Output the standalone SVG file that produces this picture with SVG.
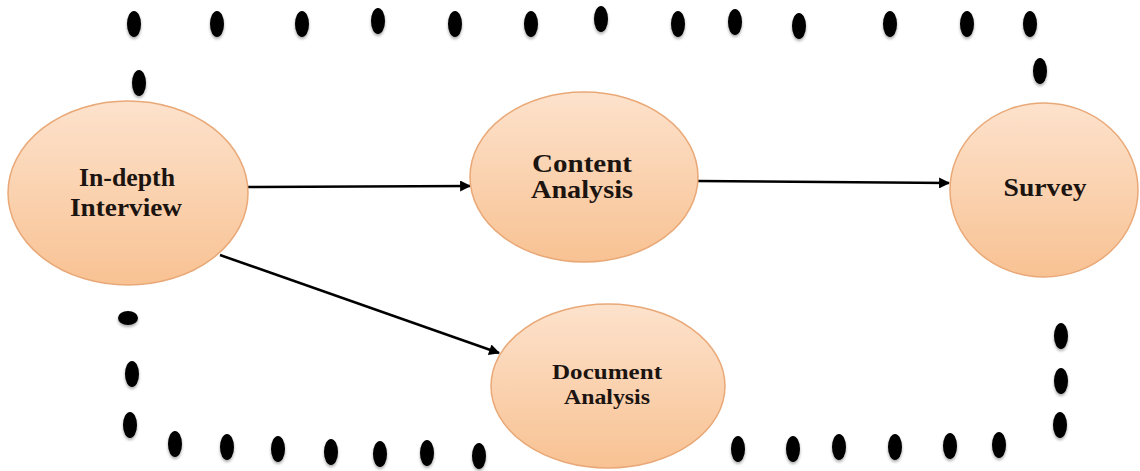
<svg xmlns="http://www.w3.org/2000/svg" width="1140" height="471" viewBox="0 0 1140 471">
<style>
.node-shape{fill:url(#peach);stroke:#e9a877;stroke-width:1.5}
.lbl{font-family:"Liberation Serif","Times New Roman",serif;font-weight:bold;fill:#1c1410;text-anchor:middle}
.big{font-size:25px}
.small{font-size:21px}
.dot{fill:#000;filter:url(#soft)}
.conn{stroke:#000;stroke-width:2.5;fill:none;marker-end:url(#arrow)}
</style>
<defs>
<linearGradient id="peach" x1="0" y1="0" x2="0" y2="1">
<stop offset="0" stop-color="#fde2cc"/>
<stop offset="1" stop-color="#f8c293"/>
</linearGradient>
<filter id="soft" x="-50%" y="-50%" width="200%" height="200%">
<feGaussianBlur in="SourceAlpha" stdDeviation="1.5"/>
<feOffset dx="0" dy="2" result="b"/>
<feComponentTransfer><feFuncA type="linear" slope="0.35"/></feComponentTransfer>
<feMerge><feMergeNode/><feMergeNode in="SourceGraphic"/></feMerge>
</filter>
<marker id="arrow" viewBox="0 0 10 10" refX="9" refY="5" markerWidth="5" markerHeight="4.4" orient="auto" markerUnits="strokeWidth">
<path d="M0,0 L10,5 L0,10 z" fill="#000"/>
</marker>
</defs>
<rect width="1140" height="471" fill="#fff"/>
<g id="dots">
<ellipse class="dot" cx="134" cy="24" rx="7" ry="13"/>
<ellipse class="dot" cx="217" cy="24" rx="7" ry="13"/>
<ellipse class="dot" cx="302" cy="24" rx="7" ry="13"/>
<ellipse class="dot" cx="378" cy="21" rx="7" ry="13"/>
<ellipse class="dot" cx="455" cy="24" rx="7" ry="13"/>
<ellipse class="dot" cx="531" cy="24" rx="7" ry="13"/>
<ellipse class="dot" cx="601" cy="19" rx="7" ry="13"/>
<ellipse class="dot" cx="678" cy="24" rx="7" ry="13"/>
<ellipse class="dot" cx="735" cy="22" rx="7" ry="13"/>
<ellipse class="dot" cx="799" cy="26" rx="7" ry="13"/>
<ellipse class="dot" cx="890" cy="24" rx="7" ry="13"/>
<ellipse class="dot" cx="967" cy="24" rx="7" ry="13"/>
<ellipse class="dot" cx="1030" cy="24" rx="7" ry="13"/>
<ellipse class="dot" cx="1040" cy="71" rx="7" ry="13"/>
<ellipse class="dot" cx="139" cy="83" rx="7" ry="13"/>
<ellipse class="dot" cx="128" cy="318" rx="10" ry="7"/>
<ellipse class="dot" cx="132" cy="374" rx="7" ry="13"/>
<ellipse class="dot" cx="130" cy="425" rx="7" ry="13"/>
<ellipse class="dot" cx="175" cy="444" rx="7" ry="13"/>
<ellipse class="dot" cx="227" cy="447" rx="7" ry="13"/>
<ellipse class="dot" cx="278" cy="449" rx="7" ry="13"/>
<ellipse class="dot" cx="331" cy="452" rx="7" ry="13"/>
<ellipse class="dot" cx="380" cy="454" rx="7" ry="13"/>
<ellipse class="dot" cx="427" cy="453" rx="7" ry="13"/>
<ellipse class="dot" cx="479" cy="456" rx="7" ry="13"/>
<ellipse class="dot" cx="738" cy="449" rx="7" ry="13"/>
<ellipse class="dot" cx="793" cy="449" rx="7" ry="13"/>
<ellipse class="dot" cx="839" cy="447" rx="7" ry="13"/>
<ellipse class="dot" cx="895" cy="447" rx="7" ry="13"/>
<ellipse class="dot" cx="950" cy="446" rx="7" ry="13"/>
<ellipse class="dot" cx="999" cy="445" rx="7" ry="13"/>
<ellipse class="dot" cx="1061" cy="336" rx="7" ry="13"/>
<ellipse class="dot" cx="1061" cy="381" rx="7" ry="13"/>
<ellipse class="dot" cx="1060" cy="425" rx="7" ry="13"/>
</g>
<g id="connectors">
<line class="conn" x1="248" y1="187" x2="470" y2="186"/>
<line class="conn" x1="698" y1="181" x2="949" y2="183"/>
<line class="conn" x1="220" y1="255" x2="499" y2="353"/>
</g>
<g id="node-indepth">
<ellipse class="node-shape" cx="128" cy="193" rx="120" ry="92"/>
<text class="lbl big" x="127" y="186" textLength="96" lengthAdjust="spacingAndGlyphs">In-depth</text>
<text class="lbl big" x="126" y="216" textLength="112" lengthAdjust="spacingAndGlyphs">Interview</text>
</g>
<g id="node-content">
<ellipse class="node-shape" cx="584" cy="177" rx="114" ry="85"/>
<text class="lbl big" x="582" y="172" textLength="100" lengthAdjust="spacingAndGlyphs">Content</text>
<text class="lbl big" x="582" y="198" textLength="102" lengthAdjust="spacingAndGlyphs">Analysis</text>
</g>
<g id="node-survey">
<ellipse class="node-shape" cx="1044" cy="190" rx="94" ry="87"/>
<text class="lbl big" x="1045" y="196" textLength="83" lengthAdjust="spacingAndGlyphs">Survey</text>
</g>
<g id="node-document">
<ellipse class="node-shape" cx="608" cy="386" rx="117" ry="82"/>
<text class="lbl small" x="607" y="379" textLength="110" lengthAdjust="spacingAndGlyphs">Document</text>
<text class="lbl small" x="607" y="404" textLength="86" lengthAdjust="spacingAndGlyphs">Analysis</text>
</g>
</svg>
